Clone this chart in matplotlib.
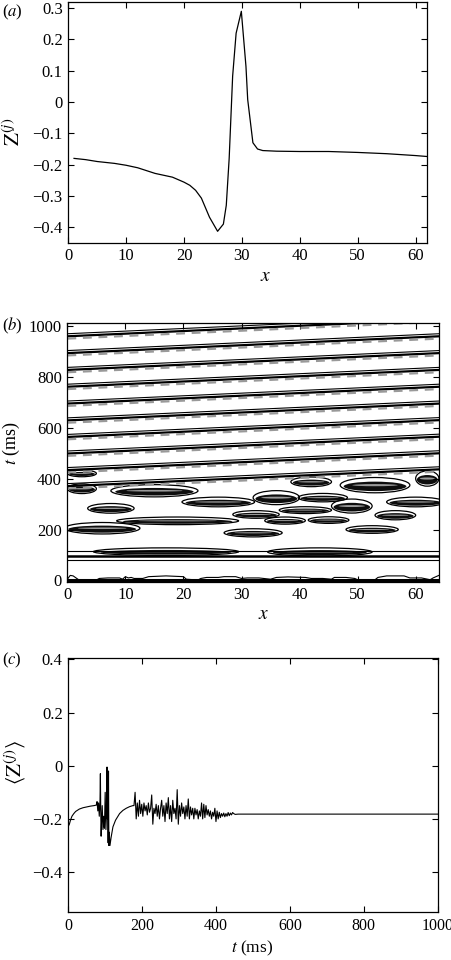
import numpy as np
import matplotlib
matplotlib.use('Agg')
import matplotlib.pyplot as plt
from matplotlib.patches import Ellipse
from matplotlib.ticker import FuncFormatter

plt.rcParams['font.family'] = ['Liberation Serif', 'DejaVu Serif']
plt.rcParams['mathtext.fontset'] = 'stix'
plt.rcParams['font.size'] = 12

# (a) snapshot of Z(j) along the ring
xa = [1, 3, 5, 8, 10, 12, 15, 18, 20, 21, 22, 23, 24.4, 25.8, 26.8, 27.3, 27.8, 28.4, 29.0,
      29.9, 30.7, 31.0, 31.9, 32.7, 33.6, 36, 40, 45, 50, 55, 60, 62]
za = [-0.18, -0.184, -0.19, -0.196, -0.202, -0.21, -0.228, -0.24, -0.256, -0.266, -0.282,
      -0.307, -0.368, -0.413, -0.39, -0.33, -0.18, 0.083, 0.22, 0.29, 0.114, 0.008, -0.13,
      -0.15, -0.155, -0.157, -0.158, -0.158, -0.161, -0.165, -0.171, -0.174]

# (b) space-time contour: travelling fronts (t at x=0 and x=64)
front_t_left = [380, 443, 508, 573, 638, 704, 770, 836, 902, 968]
front_t_right = [446, 509, 574, 639, 704, 770, 836, 902, 968, 1034]

# (b) irregular patches in the transient (centre x, centre t, width, height)
blob_x = [6, 19, 7.5, 32, 32.5, 37.5, 41, 45, 52.5, 56.5, 49, 26, 60, 36, 44, 15, 2.5, 2.5,
          42, 53, 62, 17, 43.5]
blob_t = [205, 234, 283, 187, 259, 235, 276, 237, 200, 256, 292, 308, 308, 325, 325, 352,
          360, 420, 387, 374, 400, 113, 112]
blob_w = [13, 21, 8, 10, 8, 7, 9, 7, 9, 7, 7, 12.5, 10, 8, 8.5, 15, 5, 5, 7, 12, 4, 25, 18]
blob_h = [45, 30, 38, 32, 30, 28, 27, 26, 30, 36, 55, 38, 38, 55, 33, 48, 38, 26, 38, 60,
          60, 30, 32]

# (b) horizontal contour lines of the early response
band_t = [81, 96, 116]

# (b) wavy contour close to t = 0
wave_x = [0, 0.5, 1, 1.5, 2, 5, 5.5, 7, 9, 9.5, 10, 10.5, 11, 11.5, 13, 14, 17, 20, 20.5,
          22.5, 23, 24, 26, 27, 29, 30, 31, 33, 35, 36, 38, 41, 42, 44, 45.5, 46, 48, 49.5,
          50, 53, 53.5, 55, 58, 59, 61, 62.5, 63, 64]
wave_t = [5, 20, 18, 10, 2, 2, 8, 10, 10, 5, 15, 10, 12, 8, 8, 15, 18, 15, 5, 2, 8, 12, 12,
          15, 15, 8, 10, 10, 5, 12, 14, 12, 8, 8, 5, 12, 12, 8, 3, 3, 12, 18, 18, 10, 10, 3,
          10, 20]

# (c) spatial mean of Z(j) against time
tc = [0, 3, 6, 10, 15, 20, 30, 40, 50, 60, 70, 76, 78, 80, 82, 84, 86, 87, 88, 89, 90, 92,
      94, 96, 98, 100, 102, 104, 105, 106, 107, 108, 109, 110, 111, 113, 116, 121, 128, 139,
      148, 157, 166, 175,
      178, 181, 184, 187, 190, 193, 196, 199, 202, 205, 208, 211, 214, 217, 220, 223, 226,
      229, 232, 235, 238, 241, 244, 247, 250, 253, 256, 259, 262, 265, 268, 271, 274, 277,
      280, 283, 286, 289, 292, 295, 298, 301, 304, 307, 310, 313, 316, 319, 322, 325, 328,
      331, 334, 337, 340, 343, 346, 349, 352, 355, 358, 361, 364, 367, 370, 373, 376, 379,
      382, 385, 388, 391, 394, 397, 400, 403, 406, 409, 412, 415, 418, 421, 424, 427, 430,
      433, 436, 439, 442, 445, 448, 452, 460, 1000]
zc = [-0.228, -0.22, -0.205, -0.19, -0.18, -0.172, -0.163, -0.158, -0.155, -0.152, -0.15,
      -0.148, -0.135, -0.17, -0.14, -0.19, -0.13, -0.03, -0.17, -0.265, -0.22, -0.15, -0.24,
      -0.19, -0.235, -0.1, -0.24, -0.16, -0.005, -0.2, -0.1, -0.29, -0.02, -0.3, -0.25, -0.3,
      -0.27, -0.23, -0.205, -0.18, -0.168, -0.16, -0.154, -0.15,
      -0.15, -0.10, -0.20, -0.14, -0.19, -0.13, -0.18, -0.145, -0.19, -0.14, -0.17, -0.15,
      -0.185, -0.14, -0.175, -0.16, -0.11, -0.22, -0.16, -0.18, -0.145, -0.19, -0.15, -0.20,
      -0.16, -0.13, -0.19, -0.15, -0.21, -0.14, -0.18, -0.12, -0.20, -0.15, -0.21, -0.13,
      -0.18, -0.16, -0.20, -0.09, -0.22, -0.15, -0.19, -0.14, -0.18, -0.155, -0.2, -0.15,
      -0.19, -0.125, -0.2, -0.155, -0.185, -0.16, -0.2, -0.16, -0.185, -0.165, -0.2, -0.17,
      -0.19, -0.14, -0.2, -0.145, -0.195, -0.15, -0.185, -0.165, -0.19, -0.17, -0.2, -0.175,
      -0.19, -0.16, -0.21, -0.17, -0.2, -0.175, -0.195, -0.18, -0.19, -0.178, -0.192, -0.18,
      -0.19, -0.176, -0.188, -0.178, -0.185, -0.176, -0.18, -0.183, -0.182, -0.182]

fmt = FuncFormatter(lambda v, pos: ('%g' % (round(v, 6) + 0.0)).replace('-', '\u2212'))


def style(ax):
    ax.tick_params(direction='in', top=True, right=True, length=4, width=0.8, pad=4)
    for s in ax.spines.values():
        s.set_linewidth(0.9)
    ax.yaxis.set_major_formatter(fmt)


fig = plt.figure(figsize=(4.52, 9.6), dpi=100)

# panel (a)
ax1 = fig.add_axes([0.151, 0.747, 0.794, 0.251])
ax1.plot(xa, za, color='k', lw=0.9)
ax1.set_xlim(0, 62)
ax1.set_ylim(-0.45, 0.32)
ax1.set_xticks(range(0, 61, 10))
ax1.set_yticks(np.arange(-0.4, 0.31, 0.1))
style(ax1)
ax1.set_xlabel('$x$', va='center', fontsize=14)
ax1.xaxis.set_label_coords(0.55, -0.14)
ax1.set_ylabel(r'$\mathrm{Z}^{(j)}$', va='center', fontsize=15)
ax1.yaxis.set_label_coords(-0.15, 0.46)

# panel (b)
ax2 = fig.add_axes([0.149, 0.394, 0.822, 0.2695])
for bx, bt, bw, bh in zip(blob_x, blob_t, blob_w, blob_h):
    ax2.add_patch(Ellipse((bx, bt), bw, bh, fill=False, ec='k', lw=0.9))
    ax2.add_patch(Ellipse((bx, bt - 0.08 * bh), 0.9 * bw, 0.62 * bh, fc='0.05', ec='none'))
    ax2.add_patch(Ellipse((bx, bt), 0.65 * bw, 0.14 * bh, fc='0.6', ec='none'))
for tl, tr in zip(front_t_left, front_t_right):
    ax2.plot([0, 64], [tl, tr], color='k', lw=0.8)
    ax2.plot([0, 64], [tl - 10, tr - 10], color='k', lw=1.6)
    ax2.plot([0, 64], [tl - 19, tr - 19], color='0.6', lw=1.6, dashes=(4, 3))
ax2.axhline(band_t[0], color='k', lw=0.8)
ax2.axhline(band_t[1], color='k', lw=1.8)
ax2.axhline(band_t[2], color='k', lw=0.8)
ax2.axhline(2, color='k', lw=2.2)
ax2.plot(wave_x, wave_t, color='k', lw=0.8)
ax2.set_xlim(0, 64)
ax2.set_ylim(-5, 1010)
ax2.set_xticks(range(0, 61, 10))
ax2.set_yticks(range(0, 1001, 200))
style(ax2)
ax2.set_xlabel('$x$', va='center', fontsize=14)
ax2.xaxis.set_label_coords(0.527, -0.127)
ax2.set_ylabel('$t$ (ms)', va='center', fontsize=13)
ax2.yaxis.set_label_coords(-0.15, 0.537)

# panel (c)
ax3 = fig.add_axes([0.151, 0.05, 0.817, 0.2646])
ax3.plot(tc, zc, color='k', lw=0.8)
ax3.set_xlim(0, 1000)
ax3.set_ylim(-0.55, 0.405)
ax3.set_xticks(range(0, 1001, 200))
ax3.set_yticks([-0.4, -0.2, 0, 0.2, 0.4])
style(ax3)
ax3.tick_params(axis='x', labelsize=11.5)
ax3.set_xlabel('$t$ (ms)', va='center', fontsize=12.5)
ax3.xaxis.set_label_coords(0.497, -0.145)
ax3.set_ylabel(r'$\langle\mathrm{Z}^{(j)}\rangle$', va='center', fontsize=15)
ax3.yaxis.set_label_coords(-0.143, 0.587)

fig.text(0.004, 1 - 12 / 960, '($a$)', va='center', ha='left', fontsize=12)
fig.text(0.004, 1 - 326 / 960, '($b$)', va='center', ha='left', fontsize=12)
fig.text(0.004, 1 - 660 / 960, '($c$)', va='center', ha='left', fontsize=12)

fig.savefig('out.png', dpi=100)
